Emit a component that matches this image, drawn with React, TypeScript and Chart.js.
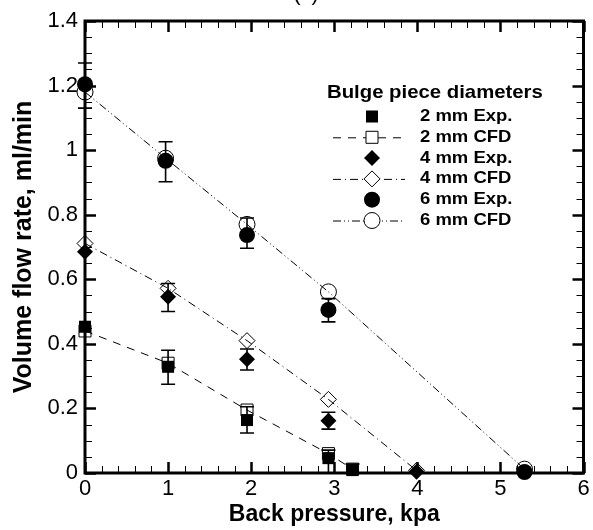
import React, { useEffect, useRef } from 'react';
import { Chart, registerables } from 'chart.js';

Chart.register(...registerables);

// ---- data ----
const xTitle = 'Back pressure, kpa';
const yTitle = 'Volume flow rate, ml/min';
const panelTitle = '(c)';
const legendTitle = 'Bulge piece diameters';
const legendLabels = ['2 mm Exp.', '2 mm CFD', '4 mm Exp.', '4 mm CFD', '6 mm Exp.', '6 mm CFD'];

const xMin = 0;
const xMax = 6;
const yMin = 0;
const yMax = 1.4;

const x2 = [0, 1, 1.95, 2.93, 3.22];
const exp2 = [0.453, 0.329, 0.164, 0.046, 0.009];
const exp2Lo = [null, 0.275, 0.124, 0.0, 0.0];
const exp2Hi = [null, 0.38, 0.205, 0.071, 0.028];
const cfd2 = [0.44, 0.34, 0.195, 0.06, 0.012];

const x4 = [0, 1, 1.95, 2.93, 3.99];
const exp4 = [0.685, 0.546, 0.352, 0.162, 0.004];
const exp4Lo = [null, 0.5, 0.319, 0.136, null];
const exp4Hi = [null, 0.587, 0.384, 0.188, null];
const cfd4 = [0.711, 0.572, 0.41, 0.228, 0.008];

const x6 = [0, 0.97, 1.95, 2.93, 5.29];
const exp6 = [1.204, 0.967, 0.737, 0.505, 0.003];
const exp6Lo = [1.13, 0.902, 0.696, 0.468, null];
const exp6Hi = [1.27, 1.026, 0.79, 0.54, 0.03];
const cfd6 = [1.18, 0.975, 0.77, 0.561, 0.012];

const pts = (xs: number[], ys: number[]) => xs.map((x, i) => ({ x, y: ys[i] }));

const errorSets = [
  { xs: x2, lo: exp2Lo, hi: exp2Hi },
  { xs: x4, lo: exp4Lo, hi: exp4Hi },
  { xs: x6, lo: exp6Lo, hi: exp6Hi },
];

const DASH2 = [8, 7];
const DASH4 = [8, 4, 1, 4];
const DASH6 = [8, 3, 1, 3, 1, 3];

const legendItems = [
  { style: 'rect', filled: true, dash: null as number[] | null, r: 8.5 },
  { style: 'rect', filled: false, dash: DASH2, r: 8.5 },
  { style: 'rectRot', filled: true, dash: null, r: 8 },
  { style: 'rectRot', filled: false, dash: DASH4, r: 8 },
  { style: 'circle', filled: true, dash: null, r: 8 },
  { style: 'circle', filled: false, dash: DASH6, r: 8 },
];

const FONT = '"Liberation Sans", Arial, sans-serif';

function drawMarker(ctx: CanvasRenderingContext2D, style: string, x: number, y: number, r: number, filled: boolean) {
  ctx.beginPath();
  if (style === 'rect') {
    const s = Math.SQRT1_2 * r;
    ctx.rect(x - s, y - s, 2 * s, 2 * s);
  } else if (style === 'rectRot') {
    ctx.moveTo(x, y - r);
    ctx.lineTo(x + r, y);
    ctx.lineTo(x, y + r);
    ctx.lineTo(x - r, y);
    ctx.closePath();
  } else {
    ctx.arc(x, y, r, 0, Math.PI * 2);
  }
  if (filled) {
    ctx.fillStyle = '#000';
    ctx.fill();
  } else {
    ctx.fillStyle = '#fff';
    ctx.fill();
    ctx.lineWidth = 1;
    ctx.strokeStyle = '#000';
    ctx.stroke();
  }
}

function stretchedText(ctx: CanvasRenderingContext2D, text: string, x: number, y: number, sx: number) {
  ctx.save();
  ctx.translate(x, y);
  ctx.scale(sx, 1);
  ctx.fillText(text, 0, 0);
  ctx.restore();
}

const overlayPlugin = {
  id: 'overlay',
  afterDatasetsDraw(chart: any) {
    const { ctx, chartArea: a, scales } = chart;
    const xs = scales.x;
    const ys = scales.y;
    ctx.save();

    // error bars
    ctx.strokeStyle = '#000';
    ctx.lineWidth = 1.6;
    errorSets.forEach((set) => {
      set.xs.forEach((xv, i) => {
        const lo = set.lo[i];
        const hi = set.hi[i];
        if (lo === null || hi === null) return;
        const px = xs.getPixelForValue(xv);
        const pl = ys.getPixelForValue(lo);
        const ph = ys.getPixelForValue(hi);
        ctx.beginPath();
        ctx.moveTo(px, pl);
        ctx.lineTo(px, ph);
        ctx.moveTo(px - 7, pl);
        ctx.lineTo(px + 7, pl);
        ctx.moveTo(px - 7, ph);
        ctx.lineTo(px + 7, ph);
        ctx.stroke();
      });
    });

    // ticks (inward, mirrored)
    ctx.strokeStyle = '#000';
    for (let i = 0; i <= 30; i++) {
      const v = xMin + i * 0.2;
      const px = Math.round(xs.getPixelForValue(v)) + 0.5;
      const major = i % 5 === 0;
      ctx.lineWidth = major ? 2.5 : 1;
      const len = major ? 11 : 7;
      ctx.beginPath();
      ctx.moveTo(px, a.bottom);
      ctx.lineTo(px, a.bottom - len);
      ctx.moveTo(px, a.top);
      ctx.lineTo(px, a.top + len);
      ctx.stroke();
    }
    for (let i = 0; i <= 28; i++) {
      const v = yMin + i * 0.05;
      const py = Math.round(ys.getPixelForValue(v)) + 0.5;
      const major = i % 4 === 0;
      ctx.lineWidth = major ? 2.5 : 1;
      const len = major ? 11 : 7;
      ctx.beginPath();
      ctx.moveTo(a.left, py);
      ctx.lineTo(a.left + len, py);
      ctx.moveTo(a.right, py);
      ctx.lineTo(a.right - len, py);
      ctx.stroke();
    }

    // frame
    ctx.lineWidth = 3;
    ctx.strokeRect(a.left, a.top, a.right - a.left, a.bottom - a.top);

    // legend
    ctx.fillStyle = '#000';
    ctx.textBaseline = 'middle';
    ctx.textAlign = 'left';
    ctx.font = `bold 19px ${FONT}`;
    stretchedText(ctx, legendTitle, 327, 93, 1.07);
    ctx.font = `bold 16.5px ${FONT}`;
    legendItems.forEach((it, i) => {
      const y = 116.5 + i * 20.8;
      if (it.dash) {
        ctx.save();
        ctx.setLineDash(it.dash);
        ctx.lineWidth = 1;
        ctx.strokeStyle = '#000';
        ctx.beginPath();
        ctx.moveTo(333, y + 0.5);
        ctx.lineTo(405, y + 0.5);
        ctx.stroke();
        ctx.restore();
      }
      drawMarker(ctx, it.style, 372, y, it.r, it.filled);
      ctx.fillStyle = '#000';
      stretchedText(ctx, legendLabels[i], 420, y, 1.12);
    });

    // cut-off panel title
    ctx.font = `22px ${FONT}`;
    ctx.textAlign = 'center';
    ctx.textBaseline = 'alphabetic';
    ctx.fillText(panelTitle, 306, 0);

    ctx.restore();
  },
};

export default function App() {
  const ref = useRef<HTMLCanvasElement | null>(null);

  useEffect(() => {
    if (!ref.current) return;
    const expCommon = {
      showLine: false,
      clip: false,
      borderColor: '#000',
      backgroundColor: '#000',
      pointBorderColor: '#000',
      pointBackgroundColor: '#000',
      pointBorderWidth: 0,
      order: 0,
    };
    const cfdCommon = {
      showLine: true,
      clip: false,
      borderColor: '#000',
      borderWidth: 1,
      backgroundColor: 'rgba(0,0,0,0)',
      pointBorderColor: '#000',
      pointBackgroundColor: 'rgba(0,0,0,0)',
      pointBorderWidth: 1,
      order: 1,
    };
    const chart = new Chart(ref.current, {
      type: 'scatter',
      data: {
        datasets: [
          { label: legendLabels[0], data: pts(x2, exp2), pointStyle: 'rect', pointRadius: 8.5, ...expCommon },
          { label: legendLabels[1], data: pts(x2, cfd2), pointStyle: 'rect', pointRadius: 8.5, borderDash: DASH2, ...cfdCommon },
          { label: legendLabels[2], data: pts(x4, exp4), pointStyle: 'rectRot', pointRadius: 8, ...expCommon },
          { label: legendLabels[3], data: pts(x4, cfd4), pointStyle: 'rectRot', pointRadius: 8, borderDash: DASH4, ...cfdCommon },
          { label: legendLabels[4], data: pts(x6, exp6), pointStyle: 'circle', pointRadius: 8, ...expCommon },
          { label: legendLabels[5], data: pts(x6, cfd6), pointStyle: 'circle', pointRadius: 8, borderDash: DASH6, ...cfdCommon },
        ] as any,
      },
      options: {
        animation: false,
        responsive: false,
        events: [],
        layout: { padding: { left: 0, right: 7, top: 21, bottom: 0 } },
        plugins: {
          legend: { display: false },
          tooltip: { enabled: false },
          title: { display: false },
        },
        scales: {
          x: {
            type: 'linear',
            min: xMin,
            max: xMax,
            afterFit: (s: any) => { s.height = 57; },
            grid: { display: false, drawTicks: false },
            border: { display: false },
            ticks: {
              stepSize: 1,
              padding: 3,
              color: '#000',
              font: { family: FONT, size: 22 },
            },
            title: {
              display: true,
              text: xTitle,
              color: '#000',
              font: { family: FONT, size: 23, weight: 'bold' },
              padding: { top: 0, bottom: 2 },
            },
          },
          y: {
            type: 'linear',
            min: yMin,
            max: yMax,
            afterFit: (s: any) => { s.width = 85; },
            grid: { display: false, drawTicks: false },
            border: { display: false },
            ticks: {
              stepSize: 0.2,
              padding: 7,
              color: '#000',
              font: { family: FONT, size: 22 },
              callback: (v: any) => String(Number(Number(v).toFixed(1))),
            },
            title: {
              display: true,
              text: yTitle,
              color: '#000',
              font: { family: FONT, size: 25, weight: 'bold' },
              padding: { top: 9, bottom: 0 },
            },
          },
        },
      } as any,
      plugins: [overlayPlugin],
    });
    return () => chart.destroy();
  }, []);

  return (
    <div style={{ position: 'absolute', left: 0, top: 0, width: 593, height: 530, background: '#fff' }}>
      <canvas ref={ref} width={593} height={530} style={{ display: 'block' }} />
    </div>
  );
}
